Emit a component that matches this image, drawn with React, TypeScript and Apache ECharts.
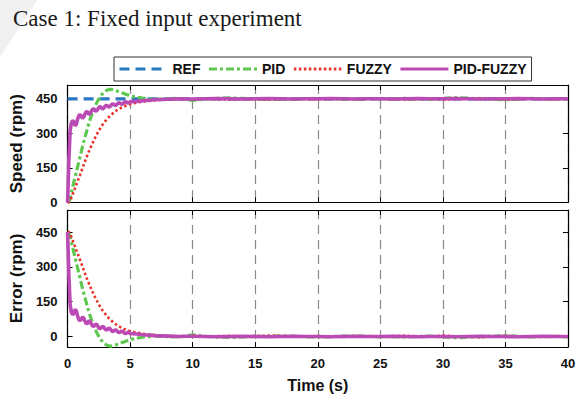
import React, { useEffect, useRef } from "react";
import * as echarts from "echarts";

const SETPOINT = 450;

const time = [
  0, 0.1, 0.2, 0.3, 0.4, 0.5, 0.6, 0.7, 0.8, 0.9, 1.0,
  1.1, 1.2, 1.3, 1.4, 1.5, 1.6, 1.7, 1.8, 1.9, 2.0,
  2.1, 2.2, 2.3, 2.4, 2.5, 2.6, 2.7, 2.8, 2.9, 3.0,
  3.1, 3.2, 3.3, 3.4, 3.5, 3.6, 3.7, 3.8, 3.9, 4.0,
  4.1, 4.2, 4.3, 4.4, 4.5, 4.6, 4.7, 4.8, 4.9, 5.0,
  5.5, 6, 6.5, 7, 7.5, 8, 8.5, 9, 9.5, 10,
  11, 12, 13, 14, 15, 16, 17, 18, 19, 20,
  21, 22, 23, 24, 25, 26, 27, 28, 29, 30,
  31, 32, 33, 34, 35, 36, 37, 38, 39, 40,
];

const refTime = [0, 40];
const refSpeed = [450, 450];

const pidSpeed = [
  0, 5, 20, 42, 65, 88, 110, 132, 155, 178, 200,
  222, 245, 265, 285, 305, 325, 343, 360, 376, 392,
  405, 418, 429, 440, 449, 458, 466, 472, 478, 482,
  486, 488, 490, 491, 491, 490, 489, 487, 485, 483,
  481, 479, 477, 475, 473, 471, 469, 467, 465, 463,
  457, 453, 450, 448, 449, 450, 452, 450, 447, 443,
  449, 452, 454, 452, 450, 449, 447, 448, 451, 452,
  450, 448, 447, 449, 451, 450, 452, 449, 448, 452,
  455, 453, 450, 448, 446, 449, 452, 450, 449, 451,
];

const fuzzySpeed = [
  0, 0, 8, 20, 35, 49, 63, 78, 92, 106, 120,
  135, 150, 165, 180, 195, 208, 221, 234, 246, 258,
  270, 281, 292, 302, 312, 321, 330, 338, 345, 352,
  359, 365, 371, 376, 381, 386, 391, 395, 399, 403,
  406, 409, 412, 414, 417, 419, 421, 423, 425, 427,
  433, 438, 441, 444, 446, 447, 448, 449, 450, 446,
  451, 448, 447, 449, 448, 446, 448, 450, 449, 448,
  450, 452, 449, 451, 450, 448, 447, 449, 451, 446,
  449, 451, 453, 450, 447, 449, 451, 450, 448, 450,
];

const pidFuzzySpeed = [
  0, 180, 310, 345, 356, 350, 333, 340, 362, 377, 382,
  374, 366, 372, 386, 395, 392, 382, 385, 396, 405,
  406, 399, 396, 404, 413, 416, 411, 406, 410, 418,
  422, 419, 414, 417, 424, 428, 426, 421, 423, 429,
  433, 431, 427, 428, 433, 437, 436, 432, 433, 437,
  439, 442, 444, 446, 447, 448, 449, 450, 449, 449,
  450, 451, 450, 449, 450, 451, 450, 449, 450, 450,
  451, 450, 449, 450, 450, 449, 450, 451, 450, 450,
  451, 450, 449, 450, 450, 451, 450, 449, 450, 450,
];

const yTickValues = [0, 150, 300, 450];
const legendNames = ["REF", "PID", "FUZZY", "PID-FUZZY"];
const colors = ["#2a78c2", "#5cc84e", "#e8322a", "#bb4ab5"];

const pairs = (xs: number[], ys: number[]) => xs.map((x, i) => [x, ys[i]]);
const toError = (ys: number[]) => ys.map((v) => SETPOINT - v);

const FONT = "'Liberation Sans', Arial, sans-serif";

export default function App() {
  const ref = useRef<HTMLDivElement>(null);
  useEffect(() => {
    if (!ref.current) return;
    const chart = echarts.init(ref.current, null, { renderer: "svg" });

    const axisLine = { show: true, onZero: false, lineStyle: { color: "#000", width: 1.2 } };
    const tickIn = { show: true, inside: true, length: 5, lineStyle: { color: "#000", width: 1 } };
    const labelStyle = { fontFamily: FONT, fontWeight: "bold", fontSize: 13, color: "#111" };
    const nameStyle = { fontFamily: FONT, fontWeight: "bold", fontSize: 17, color: "#111" };

    const xBase = (gridIndex: number, position: string, labels: boolean, grid: boolean) => ({
      type: "value",
      gridIndex,
      position,
      min: 0,
      max: 40,
      interval: 5,
      axisLine,
      axisTick: tickIn,
      axisLabel: labels ? { ...labelStyle, margin: 10 } : { show: false },
      splitLine: grid
        ? { show: true, lineStyle: { color: "#8a8a8a", width: 1.2, type: [9, 6] } }
        : { show: false },
    });

    const yBase = (gridIndex: number, position: string, min: number, max: number, name?: string) => ({
      type: "value",
      gridIndex,
      position,
      min,
      max,
      axisLine,
      axisTick: { ...tickIn, customValues: yTickValues },
      axisLabel: name
        ? { ...labelStyle, margin: 10, customValues: yTickValues }
        : { show: false },
      splitLine: { show: false },
      name: name || "",
      nameLocation: "middle",
      nameGap: 40,
      nameTextStyle: nameStyle,
    });

    const lineSeries = (
      name: string,
      data: number[][],
      xi: number,
      yi: number,
      color: string,
      width: number,
      type: any,
      z: number
    ) => ({
      name,
      type: "line",
      xAxisIndex: xi,
      yAxisIndex: yi,
      data,
      showSymbol: false,
      symbol: "none",
      z,
      itemStyle: { color },
      lineStyle: { color, width, type },
    });

    const styles = [
      { w: 3.2, t: [10, 6] },
      { w: 3.2, t: [8, 3, 3, 3] },
      { w: 2.6, t: [2.5, 2.5] },
      { w: 3.6, t: "solid" },
    ];

    chart.setOption({
      animation: false,
      backgroundColor: "#fff",
      graphic: [
        {
          type: "polygon",
          shape: { points: [[0, 0], [37, 0], [0, 57]] },
          style: { fill: "#f0f0f0" },
          z: -10,
        },
        {
          type: "text",
          x: 13,
          y: 7,
          style: {
            text: "Case 1: Fixed input experiment",
            font: "23px 'Liberation Serif', 'Times New Roman', serif",
            fill: "#1a1a1a",
          },
        },
      ],
      legend: {
        data: legendNames,
        left: 114,
        top: 57,
        orient: "horizontal",
        itemWidth: 48,
        itemHeight: 14,
        itemGap: 7,
        padding: [5, 5, 5, 4],
        borderColor: "#333",
        borderWidth: 1,
        backgroundColor: "#fff",
        lineStyle: { width: 3 },
        itemStyle: { opacity: 0, borderWidth: 0 },
        textStyle: { fontFamily: FONT, fontWeight: "bold", fontSize: 14, color: "#111" },
      },
      grid: [
        { left: 65, right: 12, top: 85, height: 117.5 },
        { left: 65, right: 12, top: 210, height: 137 },
      ],
      xAxis: [
        xBase(0, "bottom", false, true),
        xBase(0, "top", false, false),
        {
          ...xBase(1, "bottom", true, true),
          name: "Time (s)",
          nameLocation: "middle",
          nameGap: 30,
          nameTextStyle: { ...nameStyle, fontSize: 16 },
        },
        xBase(1, "top", false, false),
      ],
      yAxis: [
        yBase(0, "left", 0, 510, "Speed (rpm)"),
        yBase(0, "right", 0, 510),
        yBase(1, "left", -45, 545, "Error (rpm)"),
        yBase(1, "right", -45, 545),
      ],
      series: [
        lineSeries("REF", pairs(refTime, refSpeed), 0, 0, colors[0], styles[0].w, styles[0].t, 2),
        lineSeries("PID", pairs(time, pidSpeed), 0, 0, colors[1], styles[1].w, styles[1].t, 3),
        lineSeries("FUZZY", pairs(time, fuzzySpeed), 0, 0, colors[2], styles[2].w, styles[2].t, 4),
        lineSeries("PID-FUZZY", pairs(time, pidFuzzySpeed), 0, 0, colors[3], styles[3].w, styles[3].t, 5),
        lineSeries("PID", pairs(time, toError(pidSpeed)), 2, 2, colors[1], styles[1].w, styles[1].t, 3),
        lineSeries("FUZZY", pairs(time, toError(fuzzySpeed)), 2, 2, colors[2], styles[2].w, styles[2].t, 4),
        lineSeries("PID-FUZZY", pairs(time, toError(pidFuzzySpeed)), 2, 2, colors[3], styles[3].w, styles[3].t, 5),
      ],
    });

    return () => chart.dispose();
  }, []);

  return (
    <div
      ref={ref}
      style={{ position: "fixed", left: 0, top: 0, width: 580, height: 396, background: "#fff" }}
    />
  );
}
